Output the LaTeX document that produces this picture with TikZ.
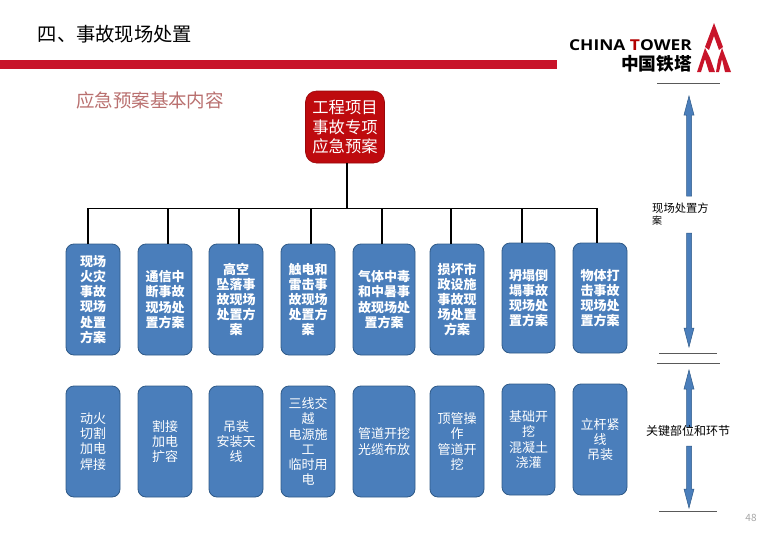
\documentclass[tikz,border=0pt]{standalone}
\usepackage{fontspec}
\setmainfont{Noto Sans CJK SC}
\newfontfamily\latinbold{Open Sans}[FakeStretch=1.16]
\usetikzlibrary{calc}
\definecolor{boxblue}{HTML}{4A7EBB}
\definecolor{boxedge}{HTML}{2F5A88}
\definecolor{barred}{HTML}{C8142A}
\definecolor{rootred}{HTML}{BE0A0E}
\definecolor{subrose}{HTML}{B9706F}
\tikzset{
  card/.style={draw=boxedge,line width=0.8pt,fill=boxblue,rounded corners=8pt,text=white,align=center,inner sep=0pt,minimum height=#1},
  card/.default=111pt,
  topcard/.style={card,font=\fontsize{13}{15.2}\selectfont\bfseries},
  lowcard/.style={card,font=\fontsize{13}{15.2}\selectfont},
  rootcard/.style={fill=rootred,draw=rootred!80!black,line width=0.6pt,rounded corners=11pt,text=white,align=center,inner sep=0pt,minimum width=79pt,minimum height=72pt,font=\fontsize{16.3}{19.2}\selectfont},
  wire/.style={draw=black,line width=1.4pt},
  rulegrey/.style={draw=black!65,line width=0.8pt},
  sidearrow/.style={fill=boxblue,draw=boxedge,line width=0.5pt,line join=miter},
  sidetext/.style={align=left,inner sep=0pt,text=black}
}
\newcommand{\vArrow}[3]{% x, base y, tip y
  \pgfmathsetmacro{\dirsign}{#3>#2 ? 1 : -1}
  \path[sidearrow] (#1-2.5,#2) -- (#1-2.5,#3-\dirsign*19) -- (#1-5,#3-\dirsign*19) -- (#1,#3)
    -- (#1+5,#3-\dirsign*19) -- (#1+2.5,#3-\dirsign*19) -- (#1+2.5,#2) -- cycle;
}
\begin{document}
\begin{tikzpicture}[x=1pt,y=-1pt]
\useasboundingbox (0,0) rectangle (764,541);
% header
\node[anchor=center,inner sep=0pt] (title) at (115,34) {\fontsize{19.3}{22}\selectfont 四、事故现场处置};
\fill[barred] (0,60) rectangle (557,69);
\node[inner sep=0pt,text=subrose] (subtitle) at (150,100) {\fontsize{18.5}{22}\selectfont 应急预案基本内容};
% logo
\node[anchor=east,inner sep=0pt] (logoen) at (692,45) {\latinbold\fontsize{15}{15}\selectfont\bfseries CHINA \textcolor{red!70!black}{T}OWER};
\node[anchor=east,inner sep=0pt] (logocn) at (692,64) {\fontsize{17.7}{18}\selectfont\bfseries 中国铁塔};
\fill[barred] (714,23) -- (723,47) -- (719,50) -- (714,36) -- (709,50) -- (705,47) -- cycle;
\fill[barred] (705,48) -- (710,58) -- (715,72) -- (709,72) -- (705,59) -- (701,72) -- (697,72) -- (701,60) -- cycle;
\fill[barred] (722,48) -- (731,72) -- (725,72) -- (722,59) -- (719,72) -- (716,72) -- (718,60) -- cycle;
% root
\node[rootcard] (root) at (345,127) {工程项目\\事故专项\\应急预案};
% top row
\node[topcard,minimum width=54pt] (a1) at (93,299.5) {现场\\火灾\\事故\\现场\\处置\\方案};
\node[topcard,minimum width=54pt] (a2) at (165,299.5) {通信中\\断事故\\现场处\\置方案};
\node[topcard,minimum width=54pt] (a3) at (236,299.5) {高空\\坠落事\\故现场\\处置方\\案};
\node[topcard,minimum width=54pt] (a4) at (308,299.5) {触电和\\雷击事\\故现场\\处置方\\案};
\node[topcard,minimum width=62pt] (a5) at (384,299.5) {气体中毒\\和中暑事\\故现场处\\置方案};
\node[topcard,minimum width=54pt] (a6) at (457,299.5) {损坏市\\政设施\\事故现\\场处置\\方案};
\node[topcard,minimum width=53pt,minimum height=110pt] (a7) at (528.5,298) {坍塌倒\\塌事故\\现场处\\置方案};
\node[topcard,minimum width=54pt,minimum height=110pt] (a8) at (600,298) {物体打\\击事故\\现场处\\置方案};
% bottom row
\node[lowcard,minimum width=54pt] (b1) at (93,441.5) {动火\\切割\\加电\\焊接};
\node[lowcard,minimum width=54pt] (b2) at (165,441.5) {割接\\加电\\扩容};
\node[lowcard,minimum width=54pt] (b3) at (236,441.5) {吊装\\安装天\\线};
\node[lowcard,minimum width=54pt] (b4) at (308,441.5) {三线交\\越\\电源施\\工\\临时用\\电};
\node[lowcard,minimum width=62pt] (b5) at (384,441.5) {管道开挖\\光缆布放};
\node[lowcard,minimum width=54pt] (b6) at (457,441.5) {顶管操\\作\\管道开\\挖};
\node[lowcard,minimum width=53pt] (b7) at (528.5,439.5) {基础开\\挖\\混凝土\\浇灌};
\node[lowcard,minimum width=54pt] (b8) at (600,439.5) {立杆紧\\线\\吊装};
% connectors
\coordinate (bus) at (347,208.5);
\coordinate (rootfoot) at (347,163);
\coordinate (t1) at (88,244);
\coordinate (t2) at (168,244);
\coordinate (t3) at (239,244);
\coordinate (t4) at (311,244);
\coordinate (t5) at (382,244);
\coordinate (t6) at (451,244);
\coordinate (t7) at (522,243);
\coordinate (t8) at (597,243);
\draw[wire] (rootfoot) -- (bus);
\draw[wire] (t1) |- (bus) -| (t8);
\foreach \n in {t2,t3,t4,t5,t6,t7}{\draw[wire] (\n) -- (\n |- bus);}
% right side
\draw[rulegrey] (657,83) -- (720,83);
\draw[rulegrey] (659,353) -- (717,353);
\draw[rulegrey] (657,363) -- (720,363);
\draw[rulegrey] (659,511) -- (717,511);
\vArrow{689}{196}{96}
\vArrow{689}{233}{347}
\vArrow{689}{427}{370}
\vArrow{689}{446}{508}
\node[sidetext,anchor=north west] (side1) at (652,203) {\fontsize{11.3}{13.3}\selectfont 现场处置方\\[-0.5pt]案};
\node[sidetext,anchor=center] (side2) at (688,431) {\fontsize{12}{14}\selectfont 关键部位和环节};
\node[inner sep=0pt,text=black!35] (pageno) at (751,518) {\fontsize{10}{12}\selectfont 48};
\end{tikzpicture}
\end{document}
